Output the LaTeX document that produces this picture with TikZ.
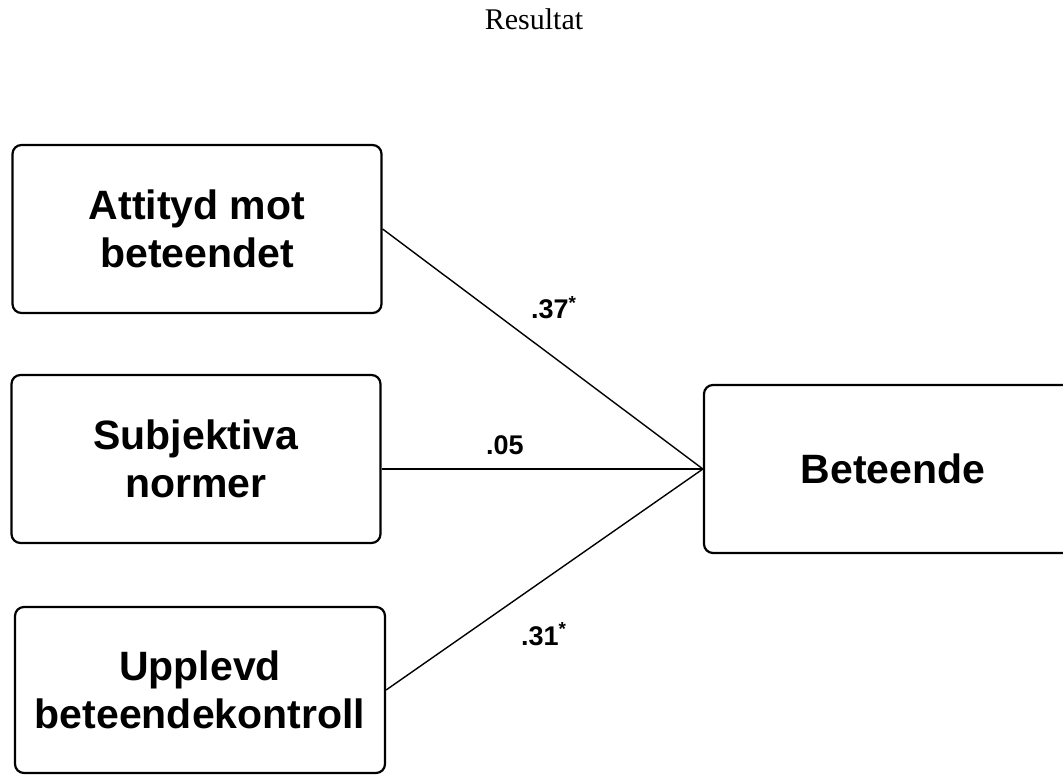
\documentclass[tikz,border=0pt]{standalone}
\usepackage{fontspec}
\setmainfont{Liberation Serif}
\setsansfont{Liberation Sans}

\begin{document}
\begin{tikzpicture}[x=1pt, y=-1pt,
  factor/.style={draw, line width=2.2pt, rounded corners=9pt,
    minimum width=369pt, minimum height=168pt, inner sep=0pt, align=center,
    font=\fontsize{41}{48}\selectfont\sffamily\bfseries},
  coef/.style={anchor=base west, inner sep=0pt,
    font=\fontsize{27}{30}\selectfont\sffamily\bfseries},
  link/.style={line width=1.4pt}]
  \useasboundingbox (0,0) rectangle (1063,775);
  \clip (0,0) rectangle (1063,775);

  % Heading
  \node[anchor=base, font=\fontsize{30}{34}\selectfont] (title) at (534, 30) {Resultat};

  % Predictors (left column)
  \node[factor] (att) at (197, 229) {Attityd mot\\beteendet};
  \node[factor] (sub) at (196, 459) {Subjektiva\\normer};
  \node[factor, minimum width=370pt, minimum height=166pt] (pbc) at (200, 690) {Upplevd\\beteendekontroll};

  % Outcome (runs past the right edge)
  \node[factor, minimum width=378pt] (beh) at (893, 469) {Beteende};

  % Paths
  \draw[link] (att.east) -- (beh.west);
  \draw[link] (sub.east |- beh.west) -- (beh.west);
  \draw[link] (pbc.east) -- (beh.west);

  % Coefficients
  \node[coef] (c1) at (531, 319) {.37\textsuperscript{*}};
  \node[coef] (c2) at (486, 454) {.05};
  \node[coef] (c3) at (521, 645) {.31\textsuperscript{*}};
\end{tikzpicture}
\end{document}
